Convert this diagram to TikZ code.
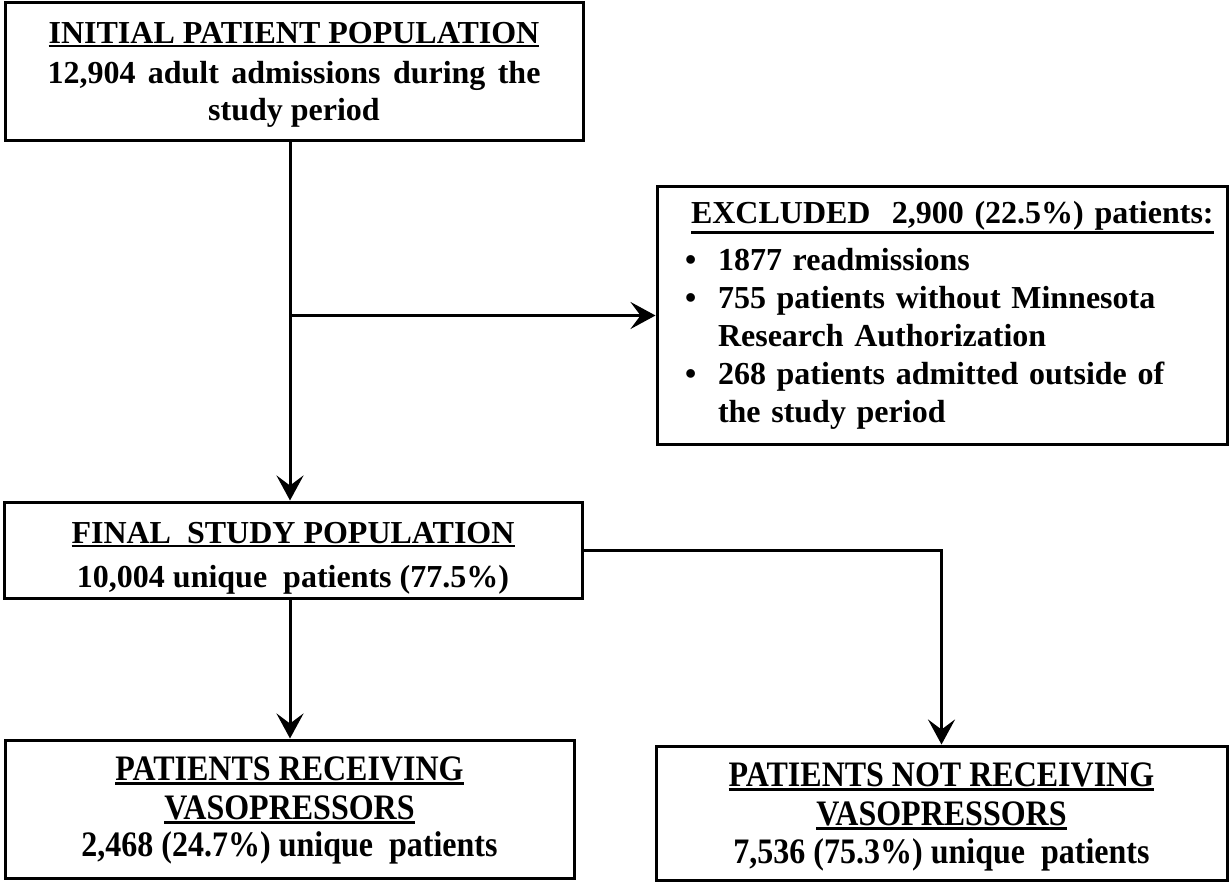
\documentclass[tikz,border=0pt]{standalone}
\usepackage{fontspec}
\setmainfont{Liberation Serif}
\usetikzlibrary{arrows.meta}
\newcommand{\undl}[2][5pt]{\setbox0\hbox{#2}\rlap{\rule[-#1]{\wd0}{2.5pt}}\box0}
\newcommand{\tall}[1]{\scalebox{1}[1.12]{#1}}
\tikzset{
  box/.style={draw, line width=3pt, rectangle, inner sep=0pt, align=center,
    font=\fontsize{32}{38}\selectfont\bfseries},
  arr/.style={-{Stealth[length=25pt,width=27pt,inset=10pt]}, line width=3pt},
}
\begin{document}
\begin{tikzpicture}[x=1pt,y=-1pt]
\useasboundingbox (0,0) rectangle (1231,882);
\node[box, minimum width=578pt, minimum height=138pt,
      font=\fontsize{32}{37}\selectfont\bfseries] (init) at (294,72)
  {\rule{0pt}{26pt}\undl[4pt]{INITIAL PATIENT POPULATION}\\[3pt]
   \makebox[493pt][s]{12,904 adult admissions during the}\\
   study period};
\node[box, minimum width=570pt, minimum height=257pt, text width=514pt,
      inner xsep=28pt, align=left] (excl) at (942,315.5)
  {\hspace*{6pt}\undl[10pt]{EXCLUDED\ \ 2,900 (22.5\%) patients:}\\[9pt]
   \makebox[33pt][l]{•}1877 readmissions\\
   \makebox[33pt][l]{•}755 patients without Minnesota\\
   \hspace*{33pt}Research Authorization\\
   \makebox[33pt][l]{•}268 patients admitted outside of\\
   \hspace*{33pt}the study period};
\node[box, minimum width=578pt, minimum height=96pt,
      font=\fontsize{32}{38}\selectfont\bfseries] (final) at (293,550)
  {\rule{0pt}{37pt}\undl[4pt]{FINAL\ \ STUDY POPULATION}\\[6pt]
   10,004 unique\ \ patients (77.5\%)};
\node[box, minimum width=569pt, minimum height=138pt,
      font=\fontsize{32}{39}\selectfont\bfseries] (recv) at (289.5,809)
  {\rule{0pt}{27pt}\tall{\undl[4pt]{PATIENTS RECEIVING}}\\
   \tall{\undl[4pt]{VASOPRESSORS}}\\[-2pt]
   \tall{2,468 (24.7\%) unique\ \ patients}};
\node[box, minimum width=571pt, minimum height=134pt,
      font=\fontsize{32}{39}\selectfont\bfseries] (notrecv) at (941.5,813)
  {\rule{0pt}{31pt}\tall{\undl[4pt]{PATIENTS NOT RECEIVING}}\\
   \tall{\undl[4pt]{VASOPRESSORS}}\\[-1pt]
   \tall{7,536 (75.3\%) unique\ \ patients}};
\coordinate (j) at (290,315.5);
\draw[arr] (init.south -| j) -- (final.north -| j);
\draw[arr] (j) -- (excl.west);
\draw[arr] (final.south -| j) -- (recv.north -| j);
\draw[arr] (final.east) -| (notrecv.north);
\end{tikzpicture}
\end{document}
